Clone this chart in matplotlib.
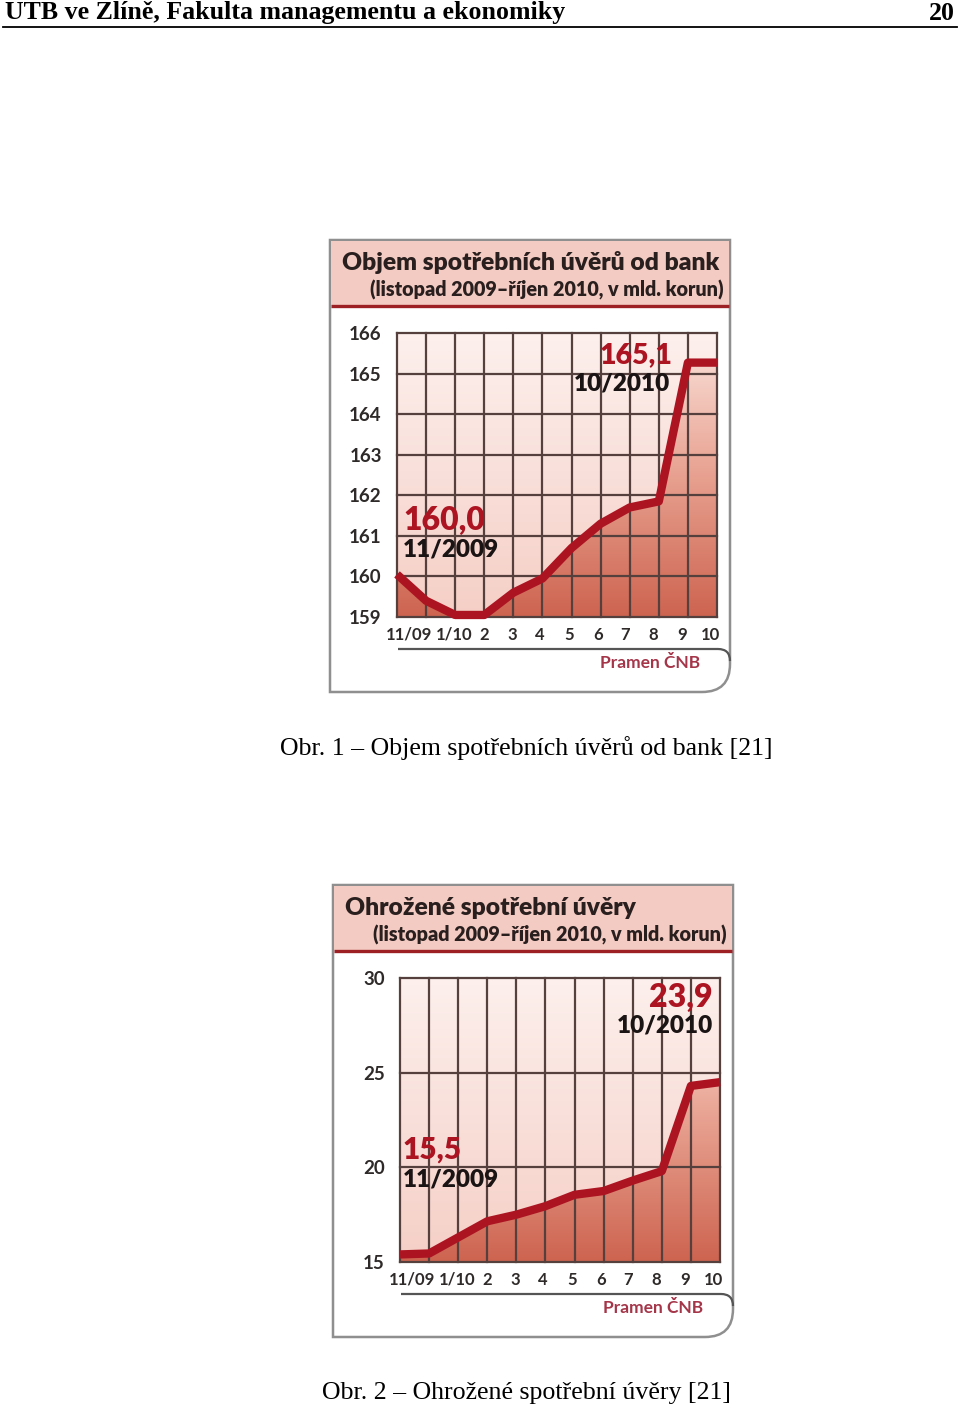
import numpy as np
import matplotlib
matplotlib.use('Agg')
import matplotlib.pyplot as plt
from matplotlib.path import Path
from matplotlib.patches import PathPatch, Rectangle, Polygon
from matplotlib.colors import LinearSegmentedColormap

W, H = 960, 1411

# data (mld. Kc), 11/2009 .. 10/2010
months = ['11/09', '12/09', '1/10', '2', '3', '4', '5', '6', '7', '8', '9', '10']
tick_labels = ['11/09', '1/10', '2', '3', '4', '5', '6', '7', '8', '9', '10']
tick_pos = [0.4, 1.95, 3.0, 3.97, 4.92, 5.9, 6.9, 7.85, 8.82, 9.8, 10.76]

objem = [160.05, 159.4, 159.05, 159.05, 159.6, 159.95, 160.7, 161.3, 161.7, 161.85, 165.27, 165.27]
objem_yticks = [159, 160, 161, 162, 163, 164, 165, 166]

ohrozene = [15.4, 15.45, 16.3, 17.15, 17.5, 17.95, 18.55, 18.75, 19.3, 19.8, 24.3, 24.5]
ohrozene_yticks = [15, 20, 25, 30]

FONT = 'Lato'
SERIF = 'Liberation Serif'
RED = '#ad1422'
GRID = '#56403e'

fig = plt.figure(figsize=(W / 100, H / 100), dpi=100)
fig.patch.set_facecolor('white')

back = fig.add_axes([0, 0, 1, 1], zorder=0)
back.set_xlim(0, W)
back.set_ylim(H, 0)
back.axis('off')

front = fig.add_axes([0, 0, 1, 1], zorder=5)
front.set_xlim(0, W)
front.set_ylim(H, 0)
front.axis('off')
front.patch.set_alpha(0)

# page header
back.text(5, 13, 'UTB ve Zlíně, Fakulta managementu a ekonomiky', family=SERIF,
          weight='bold', fontsize=18.6, ha='left', va='center', color='black')
back.text(955, 13, '20', family=SERIF, weight='bold', fontsize=18.6,
          ha='right', va='center', color='black')
back.plot([3, 957], [27, 27], color='black', lw=1.3)

bg_cmap = LinearSegmentedColormap.from_list('bg', ['#f5cfc6', '#fdf0ed'])
fill_cmap = LinearSegmentedColormap.from_list('fill', ['#cd6450', '#e8a190', '#fbe4dd'])


def draw_chart(ox, oy, values, yticks, title, subtitle, notes):
    # frame with rounded bottom right corner
    verts = [(ox, oy), (ox + 400, oy), (ox + 400, oy + 424),
             (ox + 400, oy + 452), (ox + 372, oy + 452), (ox, oy + 452), (ox, oy)]
    codes = [Path.MOVETO, Path.LINETO, Path.LINETO, Path.CURVE3, Path.CURVE3,
             Path.LINETO, Path.CLOSEPOLY]
    back.add_patch(PathPatch(Path(verts, codes), fc='white', ec='#8f8f8f', lw=1.8))

    # header band
    back.add_patch(Rectangle((ox + 1, oy + 1), 398, 64, fc='#f3cbc2', ec='none'))
    back.plot([ox + 1, ox + 399], [oy + 65.5, oy + 65.5], color='#9c2024', lw=2.4,
              solid_capstyle='butt')
    back.text(ox + 12, oy + 23, title, family=FONT, weight='heavy', fontsize=17.7,
              ha='left', va='center', color='#2a1f1f')
    back.text(ox + 394, oy + 50, subtitle, family=FONT, weight='heavy', fontsize=14.2,
              ha='right', va='center', color='#2a1f1f')

    # line under the month labels, bending into the frame
    verts = [(ox + 68, oy + 409), (ox + 388, oy + 409), (ox + 400, oy + 409), (ox + 400, oy + 421)]
    codes = [Path.MOVETO, Path.LINETO, Path.CURVE3, Path.CURVE3]
    back.add_patch(PathPatch(Path(verts, codes), fc='none', ec='#555555', lw=1.6))
    back.text(ox + 370, oy + 423, 'Pramen ČNB', family=FONT, fontsize=12.5,
              weight='bold', ha='right', va='center', color='#a5364a')

    # plot area
    l, t, r, b = ox + 67, oy + 93, ox + 387, oy + 377
    ax = fig.add_axes([l / W, 1 - b / H, (r - l) / W, (b - t) / H], zorder=2)
    ymin, ymax = yticks[0], yticks[-1]
    x = np.arange(len(values))
    ax.set_xlim(0, 11)
    ax.set_ylim(ymin, ymax)
    ax.patch.set_alpha(0)

    grad = np.linspace(0, 1, 256).reshape(-1, 1)
    ax.imshow(grad, extent=[0, 11, ymin, ymax], origin='lower', cmap=bg_cmap,
              aspect='auto', zorder=0)
    im = ax.imshow(grad, extent=[0, 11, ymin, ymax], origin='lower', cmap=fill_cmap,
                   aspect='auto', zorder=1)
    poly = Polygon([(0, ymin)] + list(zip(x, values)) + [(11, ymin)], closed=True,
                   fc='none', ec='none')
    ax.add_patch(poly)
    im.set_clip_path(poly)

    for yv in yticks:
        ax.axhline(yv, color=GRID, lw=1.6, zorder=2, clip_on=False)
    for xv in x:
        ax.axvline(xv, color=GRID, lw=1.6, zorder=2, clip_on=False)

    ax.plot(x, values, color=RED, lw=6, zorder=3, clip_on=False,
            solid_joinstyle='round', solid_capstyle='butt')

    for s in ax.spines.values():
        s.set_visible(False)
    ax.set_yticks(yticks)
    ax.set_yticklabels([str(v) for v in yticks], family=FONT, fontsize=13.5,
                       color='#2f2a2a', weight='bold')
    ax.set_xticks(tick_pos)
    ax.set_xticklabels(tick_labels, family=FONT, fontsize=12, color='#2f2a2a',
                       weight='bold')
    ax.tick_params(axis='y', length=0, pad=11)
    ax.tick_params(axis='x', length=0, pad=7)

    for (tx, ty, txt, col, fs, ha) in notes:
        front.text(ox + tx, oy + ty, txt, family=FONT, weight='heavy', fontsize=fs,
                   color=col, ha=ha, va='center')


draw_chart(330, 240, objem, objem_yticks,
           'Objem spotřebních úvěrů od bank',
           '(listopad 2009–říjen 2010, v mld. korun)',
           [(342, 115, '165,1', RED, 20.5, 'right'),
            (340, 143, '10/2010', '#1a1414', 17.5, 'right'),
            (73, 280, '160,0', RED, 23, 'left'),
            (73, 310, '11/2009', '#1a1414', 17.5, 'left')])
back.text(526, 748, 'Obr. 1 – Objem spotřebních úvěrů od bank [21]', family=SERIF,
          fontsize=18.6, ha='center', va='center', color='black')

draw_chart(333, 885, ohrozene, ohrozene_yticks,
           'Ohrožené spotřební úvěry',
           '(listopad 2009–říjen 2010, v mld. korun)',
           [(380, 112, '23,9', RED, 23, 'right'),
            (380, 141, '10/2010', '#1a1414', 17.5, 'right'),
            (70, 265, '15,5', RED, 21.5, 'left'),
            (70, 295, '11/2009', '#1a1414', 17.5, 'left')])
back.text(526, 1393, 'Obr. 2 – Ohrožené spotřební úvěry [21]', family=SERIF,
          fontsize=18.6, ha='center', va='center', color='black')

plt.savefig('out.png', dpi=100)
